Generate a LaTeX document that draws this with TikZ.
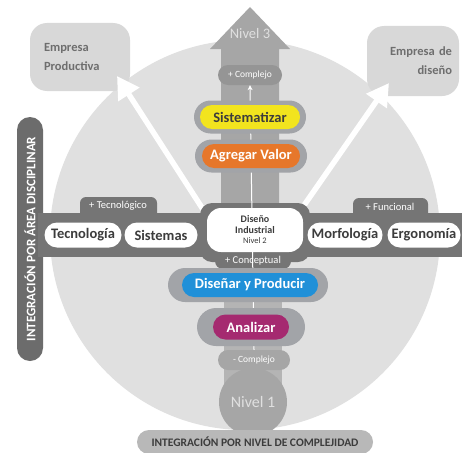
\documentclass[tikz,border=0pt]{standalone}
\usepackage{fontspec}
\setmainfont{Carlito}
\usetikzlibrary{arrows.meta,shapes.misc}
\definecolor{circ}{HTML}{E0E0E0}
\definecolor{eboxc}{HTML}{D8D8D8}
\definecolor{etext}{HTML}{6E6E6E}
\definecolor{shaftc}{HTML}{A6A6A6}
\definecolor{shaftl}{HTML}{B4B4B4}
\definecolor{barc}{HTML}{757575}
\definecolor{outerc}{HTML}{A2A4A8}
\definecolor{ylw}{HTML}{F2E41E}
\definecolor{orng}{HTML}{E6772B}
\definecolor{blu}{HTML}{2090D8}
\definecolor{mgnt}{HTML}{A52A70}
\definecolor{darkt}{HTML}{3C3C3C}
\definecolor{bbar}{HTML}{B8B8B8}
\tikzset{
  pill/.style={rounded rectangle, inner sep=0pt, font=\fontsize{14.5}{16}\selectfont\bfseries},
  whitepill/.style={pill, fill=white, text=darkt},
  tabtxt/.style={rounded rectangle, inner sep=0pt, text=white, font=\fontsize{10.5}{11}\selectfont},
  ebox/.style={rounded corners=17pt, fill=eboxc, text=etext, inner sep=0pt, font=\fontsize{12.5}{19}\selectfont\bfseries},
  warrow/.style={white, line width=5.5pt, -{Triangle[length=22pt,width=24pt]}},
}
\begin{document}
\begin{tikzpicture}[x=1pt,y=-1pt]
\useasboundingbox (0,0) rectangle (462,452);
\fill[white] (0,0) rectangle (462,452);
% big circle
\fill[circ] (245,235) circle[radius=195pt];
% company boxes
\node[ebox, minimum width=100pt, minimum height=68pt, text width=72pt, align=left] (ep) at (80,57) {Empresa\\Productiva};
\node[ebox, minimum width=92pt, minimum height=70pt, text width=78pt, align=right] (ed) at (413,61) {Empresa de\\dise\~no};
% white arrows
\coordinate (sL) at (206,214);
\coordinate (tL) at (117,76);
\coordinate (sR) at (298,214);
\coordinate (tR) at (389,83);
\draw[warrow] (sL) -- (tL);
\draw[warrow] (sR) -- (tR);
% central upward shaft
\fill[shaftc] (250,7) -- (290,49) -- (279,49) -- (279,215) -- (221,215) -- (221,49) -- (210,49) -- cycle;
\fill[shaftl] (224,250) rectangle (282,395);
% vertical bar
\node[rounded rectangle, rotate=90, fill=barc!92!black, text=white, inner sep=0pt, minimum width=244pt, minimum height=26pt, font=\fontsize{13}{13}\selectfont\bfseries] (vb) at (30,239) {INTEGRACIÓN POR ÁREA DISCIPLINAR};
% horizontal bar
\fill[barc] (38,213) rectangle (462,257);
\fill[barc, rounded corners=6pt] (80,197) rectangle (157,222);
\fill[barc, rounded corners=6pt] (353,198) rectangle (428,222);
\fill[barc, rounded corners=12pt] (200,203) rectangle (310,262);
\node[tabtxt, fill=barc, minimum width=76pt, minimum height=16pt] (tc) at (253,261) {+ Conceptual};
\node[tabtxt] (tt) at (118,206) {+ Tecnológico};
\node[tabtxt] (tf) at (390,207) {+ Funcional};
% Nivel labels
\node[text=white!88!black, font=\fontsize{14.5}{15}\selectfont] (n3) at (250,34) {Nivel 3};
\node[circle, fill=shaftc, minimum size=68pt, inner sep=0pt, text=white!88!black, font=\fontsize{16}{17}\selectfont] (n1) at (253,402) {Nivel 1};
% complejo pills
\node[tabtxt, fill=shaftc!90!black, minimum width=64pt, minimum height=20pt, font=\fontsize{9.5}{10}\selectfont] (cu) at (250,75) {+ Complejo};
\node[tabtxt, fill=shaftc, minimum width=72pt, minimum height=20pt, font=\fontsize{9.5}{10}\selectfont] (cd) at (254,360) {- Complejo};
% center white arrow line
\draw[white, line width=1pt, -{Stealth[length=5pt,width=5pt]}] (cd.north) -- (cu.south);
% process pills
\node[rounded rectangle, fill=outerc, minimum width=112pt, minimum height=33pt, inner sep=0pt] (o1) at (250,117) {};
\node[pill, fill=ylw, text=darkt, minimum width=100pt, minimum height=24pt] (sis) at (250,117) {Sistematizar};
\node[rounded rectangle, fill=outerc, minimum width=112pt, minimum height=33pt, inner sep=0pt] (o2) at (251,156) {};
\node[pill, fill=orng, text=white, minimum width=98pt, minimum height=24pt] (agr) at (251,156) {Agregar Valor};
\node[rounded rectangle, fill=outerc, minimum width=160pt, minimum height=34pt, inner sep=0pt] (o3) at (248,285) {};
\node[pill, fill=blu, text=white, minimum width=136pt, minimum height=24pt] (dis) at (250,285) {Diseñar y Producir};
\node[rounded rectangle, fill=outerc, minimum width=108pt, minimum height=38pt, inner sep=0pt] (o4) at (251,327) {};
\node[pill, fill=mgnt, text=white, minimum width=76pt, minimum height=25pt] (ana) at (251,327) {Analizar};
% central node
\node[rectangle, rounded corners=14pt, fill=white, text=darkt, minimum width=96pt, minimum height=44pt, inner sep=0pt, align=center, font=\fontsize{10}{10.5}\selectfont\bfseries] (cn) at (255,230) {Diseño\\Industrial\\{\mdseries\fontsize{8.5}{9}\selectfont Nivel 2}};
% discipline pills
\node[whitepill, minimum width=77pt, minimum height=25pt] (tec) at (83,235) {Tecnología};
\node[whitepill, minimum width=73pt, minimum height=25pt] (sist) at (161,235) {Sistemas};
\node[whitepill, minimum width=75pt, minimum height=25pt] (mor) at (345,235) {Morfología};
\node[whitepill, minimum width=73pt, minimum height=25pt] (erg) at (424,235) {Ergonomía};
% bottom bar
\node[rounded rectangle, fill=bbar, text=darkt, minimum width=236pt, minimum height=24pt, inner sep=0pt, font=\fontsize{11.5}{12}\selectfont\bfseries] (bb) at (255,442) {INTEGRACIÓN POR NIVEL DE COMPLEJIDAD};
\end{tikzpicture}
\end{document}
